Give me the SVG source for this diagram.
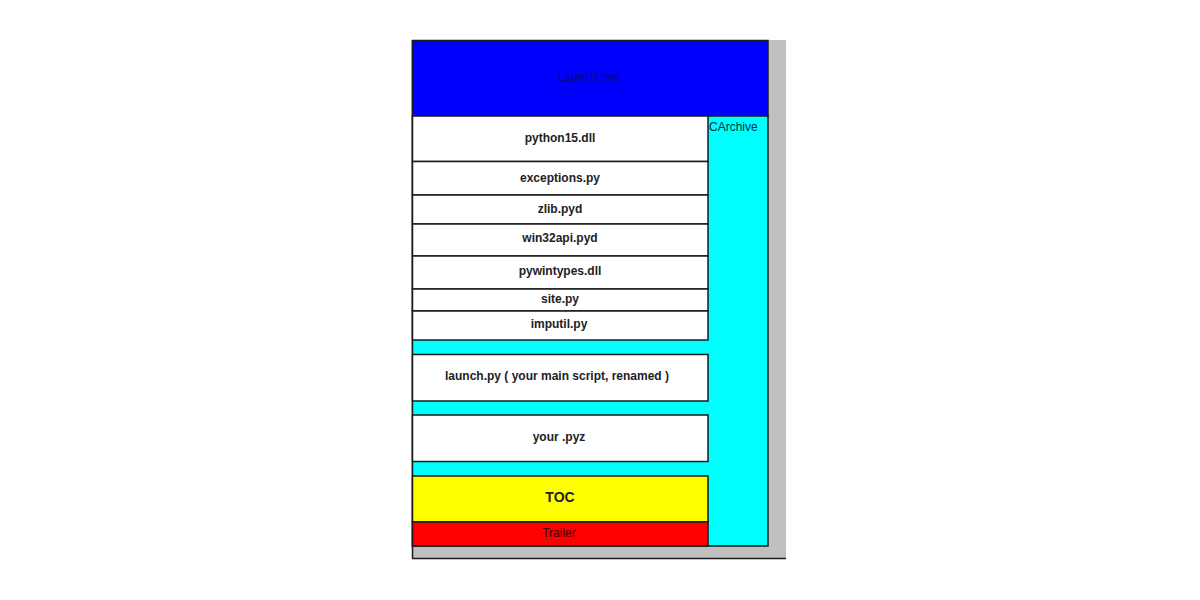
<svg xmlns="http://www.w3.org/2000/svg" width="1200" height="600" viewBox="0 0 1200 600">
<style>
.box{stroke:#1a1a1a;stroke-width:1.5}
.w{fill:#ffffff}
text{font-family:"Liberation Sans",Arial,sans-serif;font-size:12px;fill:#1a1a1a;text-anchor:middle;dominant-baseline:central}
.b{font-weight:bold;fill:#222222}
</style>
<rect width="1200" height="600" fill="#ffffff"/>
<g id="frame">
<rect x="412" y="40" width="374" height="518" fill="#c0c0c0"/>
<line x1="412.5" y1="40" x2="412.5" y2="558.5" stroke="#1a1a1a" stroke-width="1.5"/>
<line x1="412" y1="558.5" x2="786" y2="558.5" stroke="#1a1a1a" stroke-width="1.5"/>
</g>
<g id="launch-exe">
<rect class="box" x="412.5" y="40.5" width="355.5" height="75.5" fill="#0000ff"/>
<text x="589" y="77" style="fill:#0a0a70">Launch.exe</text>
</g>
<g id="carchive">
<rect class="box" x="412.5" y="116" width="355.5" height="430" fill="#00ffff"/>
<text x="709" y="127" style="text-anchor:start;fill:#003040">CArchive</text>
</g>
<g id="python15">
<rect class="box w" x="412.5" y="116" width="295.5" height="45.5"/>
<text class="b" x="560" y="138">python15.dll</text>
</g>
<g id="exceptions">
<rect class="box w" x="412.5" y="161.5" width="295.5" height="33.5"/>
<text class="b" x="560" y="178">exceptions.py</text>
</g>
<g id="zlib">
<rect class="box w" x="412.5" y="195" width="295.5" height="29"/>
<text class="b" x="560" y="209">zlib.pyd</text>
</g>
<g id="win32api">
<rect class="box w" x="412.5" y="224" width="295.5" height="32"/>
<text class="b" x="560" y="238">win32api.pyd</text>
</g>
<g id="pywintypes">
<rect class="box w" x="412.5" y="256" width="295.5" height="33"/>
<text class="b" x="560" y="271">pywintypes.dll</text>
</g>
<g id="site">
<rect class="box w" x="412.5" y="289" width="295.5" height="22"/>
<text class="b" x="560" y="299">site.py</text>
</g>
<g id="imputil">
<rect class="box w" x="412.5" y="311" width="295.5" height="29"/>
<text class="b" x="559" y="324">imputil.py</text>
</g>
<g id="launch-py">
<rect class="box w" x="412.5" y="354.5" width="295.5" height="46.5"/>
<text class="b" x="557" y="376">launch.py ( your main script, renamed )</text>
</g>
<g id="pyz">
<rect class="box w" x="412.5" y="415" width="295.5" height="46.5"/>
<text class="b" x="559" y="437">your .pyz</text>
</g>
<g id="toc">
<rect class="box" x="412.5" y="476" width="295.5" height="46" fill="#ffff00"/>
<text class="b" x="560" y="497" style="font-size:14px">TOC</text>
</g>
<g id="trailer">
<rect class="box" x="412.5" y="522" width="295.5" height="24" fill="#ff0000"/>
<text x="559" y="533" style="fill:#400000">Trailer</text>
</g>
</svg>
